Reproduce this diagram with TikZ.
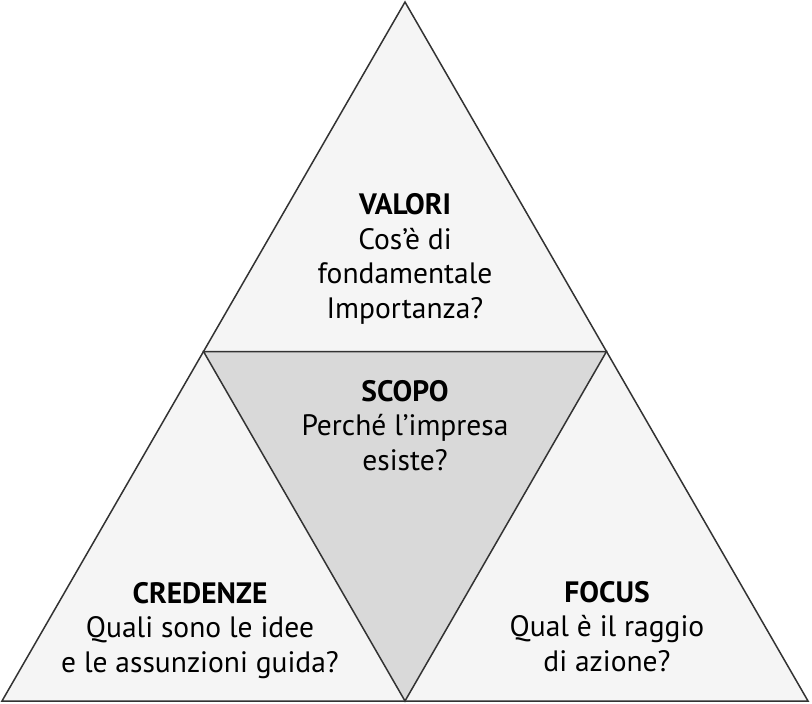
\documentclass[tikz,border=0pt]{standalone}
\usepackage{fontspec}
\setmainfont{PT Sans}
\usetikzlibrary{positioning,calc}
\definecolor{edgegray}{HTML}{333333}
\definecolor{outerfill}{HTML}{F5F5F5}
\definecolor{innerfill}{HTML}{D9D9D9}
\tikzset{every node/.style={align=center, font=\fontsize{29.5}{34.5}\selectfont, text=black, anchor=base},
  part/.style={draw=edgegray, line width=1.5pt, line join=miter}}

\begin{document}
\begin{tikzpicture}[x=1pt, y=-1pt]
            \useasboundingbox (0,0) rectangle (812,704);
            \coordinate (top) at (405,2);
            \coordinate (bl) at (2,701);
            \coordinate (br) at (808,701);
            \coordinate (ml) at ($(top)!0.5!(bl)$);
            \coordinate (mr) at ($(top)!0.5!(br)$);
            \coordinate (mb) at ($(bl)!0.5!(br)$);

            \fill[outerfill] (top) -- (bl) -- (br) -- cycle;
            \filldraw[innerfill, part] (ml) -- (mr) -- (mb) -- cycle;
            \draw[part] (top) -- (bl) -- (br) -- cycle;

            \node (valori) at (405,318) {\textbf{VALORI}\\Cos’è di\\fondamentale\\Importanza?};
            \node (scopo) at (405,470) {\textbf{SCOPO}\\Perché l’impresa\\esiste?};
            \node (credenze) at (200,672) {\textbf{CREDENZE}\\Quali sono le idee\\e le assunzioni guida?};
            \node (focus) at (607,671) {\textbf{FOCUS}\\Qual è il raggio\\di azione?};
        \end{tikzpicture}
\end{document}
